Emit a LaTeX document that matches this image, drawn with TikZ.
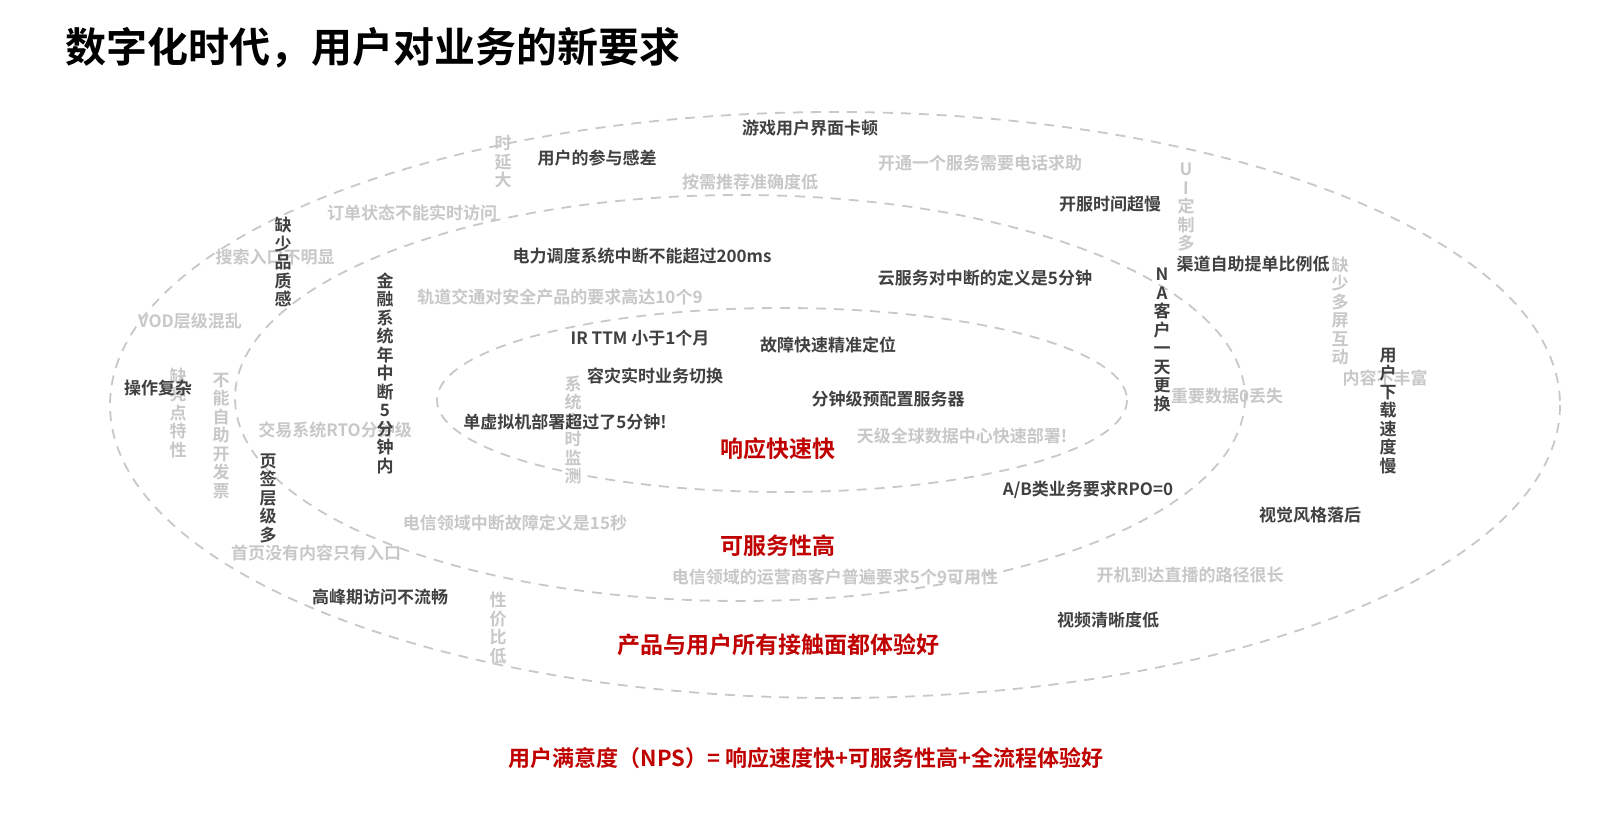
\documentclass[tikz,border=0pt]{standalone}
\usepackage{fontspec}
\setmainfont{Noto Sans CJK SC}[BoldFont={* Bold}]
\definecolor{dk}{HTML}{404040}
\definecolor{lt}{HTML}{C8C8C8}
\definecolor{rd}{HTML}{C00000}
\begin{document}
\begin{tikzpicture}[x=1pt,y=-1pt,
 dark/.style={text=dk,font=\bfseries\fontsize{17}{19}\selectfont,inner sep=0},
 light/.style={text=lt,font=\bfseries\fontsize{17}{19}\selectfont,inner sep=0},
 vert/.style={align=center,font=\bfseries\fontsize{17}{18.5}\selectfont},
 red/.style={text=rd,font=\bfseries\fontsize{23}{26}\selectfont,inner sep=0},
 ring/.style={draw=lt,line width=1.8pt,dash pattern=on 10pt off 8pt}]
\useasboundingbox (0,0) rectangle (1600,818);
\fill[white] (0,0) rectangle (1600,818);
\draw[ring] (835,405) ellipse [x radius=725,y radius=293];
\draw[ring] (740,398) ellipse [x radius=505,y radius=203];
\draw[ring] (782,400) ellipse [x radius=345,y radius=92];
\node[anchor=west,text=black,font=\bfseries\fontsize{41}{46}\selectfont,inner sep=0] (title) at (65,48) {数字化时代，用户对业务的新要求};
% light
\node[light] (l1) at (980,163) {开通一个服务需要电话求助};
\node[light] (l2) at (750,182) {按需推荐准确度低};
\node[light] (l3) at (412,213) {订单状态不能实时访问};
\node[light] (l4) at (275,257) {搜索入口不明显};
\node[light] (l5) at (560,297) {轨道交通对安全产品的要求高达10个9};
\node[light] (l6) at (190,321) {VOD层级混乱};
\node[light] (l7) at (335,430) {交易系统RTO分钟级};
\node[light] (l8) at (962,436) {天级全球数据中心快速部署!};
\node[light] (l9) at (1227,396) {重要数据0丢失};
\node[light] (l10) at (1385,378) {内容不丰富};
\node[light] (l11) at (515,523) {电信领域中断故障定义是15秒};
\node[light] (l12) at (316,553) {首页没有内容只有入口};
\node[light] (l13) at (835,577) {电信领域的运营商客户普遍要求5个9可用性};
\node[light] (l14) at (1190,575) {开机到达直播的路径很长};
\node[light,vert] (v1) at (503,162) {时\\延\\大};
\node[light,vert] (v2) at (1186,207) {U\\I\\定\\制\\多};
\node[light,vert] (v3) at (1340,311) {缺\\少\\多\\屏\\互\\动};
\node[light,vert] (v4) at (178,413) {缺\\亮\\点\\特\\性};
\node[light,vert] (v5) at (221,436) {不\\能\\自\\助\\开\\发\\票};
\node[light,vert] (v6) at (573,430) {系\\统\\实\\时\\监\\测};
\node[light,vert] (v7) at (498,628) {性\\价\\比\\低};
% dark
\node[dark] (d1) at (810,128) {游戏用户界面卡顿};
\node[dark] (d2) at (597,158) {用户的参与感差};
\node[dark] (d3) at (1110,204) {开服时间超慢};
\node[dark] (d4) at (1253,264) {渠道自助提单比例低};
\node[dark] (d5) at (642,256) {电力调度系统中断不能超过200ms};
\node[dark] (d6) at (985,278) {云服务对中断的定义是5分钟};
\node[dark] (d7) at (640,338) {IR TTM 小于1个月};
\node[dark] (d8) at (828,345) {故障快速精准定位};
\node[dark] (d9) at (655,376) {容灾实时业务切换};
\node[dark] (d10) at (888,399) {分钟级预配置服务器};
\node[dark] (d11) at (565,422) {单虚拟机部署超过了5分钟!};
\node[dark] (d12) at (158,388) {操作复杂};
\node[dark] (d13) at (1088,490) {A/B类业务要求RPO=0};
\node[dark] (d14) at (1310,515) {视觉风格落后};
\node[dark] (d15) at (380,597) {高峰期访问不流畅};
\node[dark] (d16) at (1108,620) {视频清晰度低};
\node[dark,vert] (w1) at (283,262) {缺\\少\\品\\质\\感};
\node[dark,vert] (w2) at (385,373) {金\\融\\系\\统\\年\\中\\断\\5\\分\\钟\\内};
\node[dark,vert] (w3) at (268,498) {页\\签\\层\\级\\多};
\node[dark,vert] (w4) at (1162,340) {N\\A\\客\\户\\一\\天\\更\\换};
\node[dark,vert] (w5) at (1388,411) {用\\户\\下\\载\\速\\度\\慢};
% red
\node[red] (r1) at (778,449) {响应快速快};
\node[red] (r2) at (778,546) {可服务性高};
\node[red] (r3) at (778,645) {产品与用户所有接触面都体验好};
\node[red,font=\bfseries\fontsize{22}{26}\selectfont] (r4) at (806,758) {用户满意度（NPS）= 响应速度快+可服务性高+全流程体验好};
\end{tikzpicture}
\end{document}
